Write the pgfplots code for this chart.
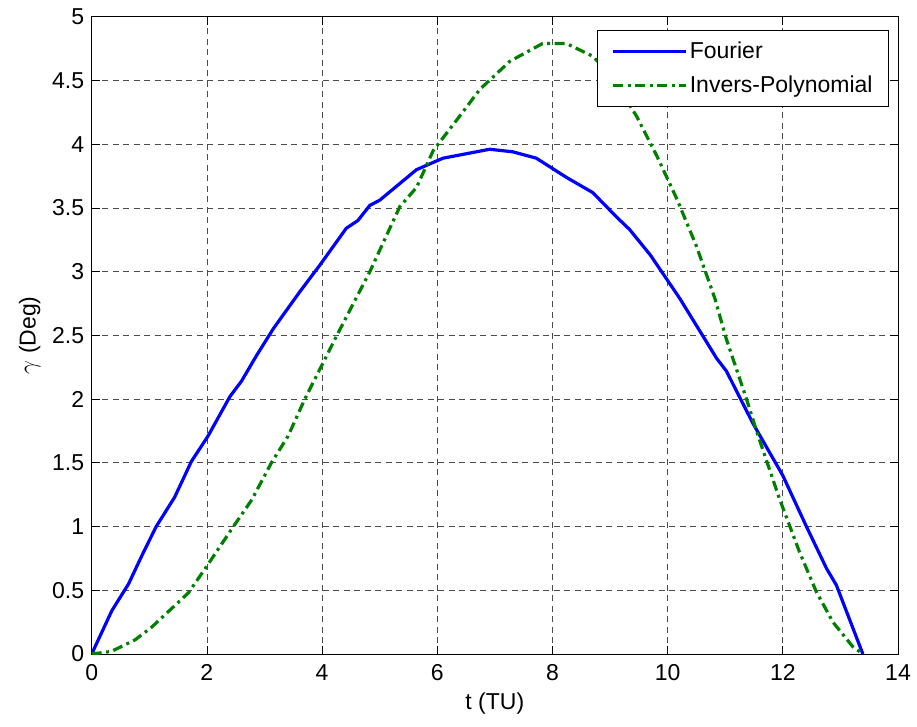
\documentclass[border=0pt]{standalone}
\usepackage{pgfplots}
\pgfplotsset{compat=1.18}
\usepackage{fontspec}
\setmainfont{Liberation Sans}

\begin{document}
\begin{tikzpicture}
\begin{axis}[
    name=ax,
    scale only axis,
    width=806.3bp,
    height=637.3bp,
    xmin=0, xmax=14,
    ymin=0, ymax=5,
    xtick={0,2,4,6,8,10,12,14},
    ytick={0,0.5,1,1.5,2,2.5,3,3.5,4,4.5,5},
    tick align=inside,
    xtick pos=both,
    ytick pos=both,
    major tick length=8bp,
    tick style={black, line width=0.7bp},
    axis line style={black, line width=1bp},
    grid=major,
    grid style={black!70, line width=0.7bp, dash pattern=on 6bp off 4.5bp},
    /pgf/number format/assume math mode=true,
    tick label style={font=\fontsize{23bp}{27bp}\selectfont},
    xticklabel style={yshift=-7bp},
    yticklabel style={xshift=-4bp},
    label style={font=\fontsize{23bp}{27bp}\selectfont},
    xlabel={t (TU)},
    ylabel={$\gamma$ (Deg)},
    xlabel style={yshift=-5bp},
    ylabel style={yshift=5bp},
    legend style={
      at={(1,1)}, xshift=-9bp, yshift=-13bp, anchor=north east,
      draw=black, line width=0.8bp, fill=white,
      font=\fontsize{23bp}{27bp}\selectfont,
      row sep=12bp, inner xsep=14bp, inner ysep=10bp,
    },
    legend cell align=left,
    legend image code/.code={
      \draw[#1] (0bp,0bp) -- (73bp,0bp);
    },
  ]

  % Fourier
  \addplot[color=blue, line width=3.2bp] coordinates {
    (0,0) (0.35,0.34) (0.64,0.55) (0.88,0.78) (1.12,1.0) (1.44,1.23)
    (1.73,1.51) (2.02,1.71) (2.40,2.02) (2.60,2.14) (2.86,2.34) (3.04,2.47)
    (3.15,2.55) (3.61,2.84) (3.96,3.05) (4.42,3.34) (4.62,3.40) (4.83,3.52)
    (5.0,3.56) (5.64,3.80) (6.1,3.89) (6.68,3.94) (6.91,3.96) (7.31,3.94)
    (7.72,3.89) (8.24,3.74) (8.70,3.62) (9.11,3.43) (9.34,3.33) (9.7,3.13)
    (10.21,2.79) (10.85,2.32) (11.02,2.22) (11.48,1.81) (12.0,1.40)
    (12.41,1.0) (12.76,0.67) (12.93,0.54) (13.39,0)
  };
  \addlegendentry{Fourier}

  % inverse polynomial
  \addplot[color=green!50!black, line width=3.2bp,
    dash pattern=on 10bp off 4.5bp on 3bp off 4.5bp] coordinates {
    (0,0) (0.34,0.02) (0.75,0.11) (1.04,0.21) (1.68,0.48) (2.0,0.69)
    (2.43,0.98) (2.78,1.21) (3.12,1.50) (3.41,1.71) (3.70,2.0) (3.99,2.26)
    (4.28,2.52) (4.83,3.0) (5.35,3.51) (5.64,3.66) (5.93,3.95) (6.22,4.12)
    (6.39,4.22) (6.74,4.43) (7.26,4.65) (7.83,4.79) (8.24,4.79) (8.70,4.69)
    (9.0,4.55) (9.46,4.22) (9.81,3.91) (10.16,3.57) (10.5,3.2) (10.82,2.79)
    (11.02,2.47) (11.37,2.0) (11.55,1.74) (11.94,1.22) (12.29,0.80)
    (12.58,0.49) (12.87,0.25) (13.21,0.06) (13.39,0)
  };
  \addlegendentry{Invers-Polynomial}

\end{axis}
\pgfresetboundingbox
\path[use as bounding box] ([shift={(-91.7bp,-73bp)}]ax.south west)
  rectangle ([shift={(19bp,16.7bp)}]ax.north east);
\end{tikzpicture}
\end{document}
